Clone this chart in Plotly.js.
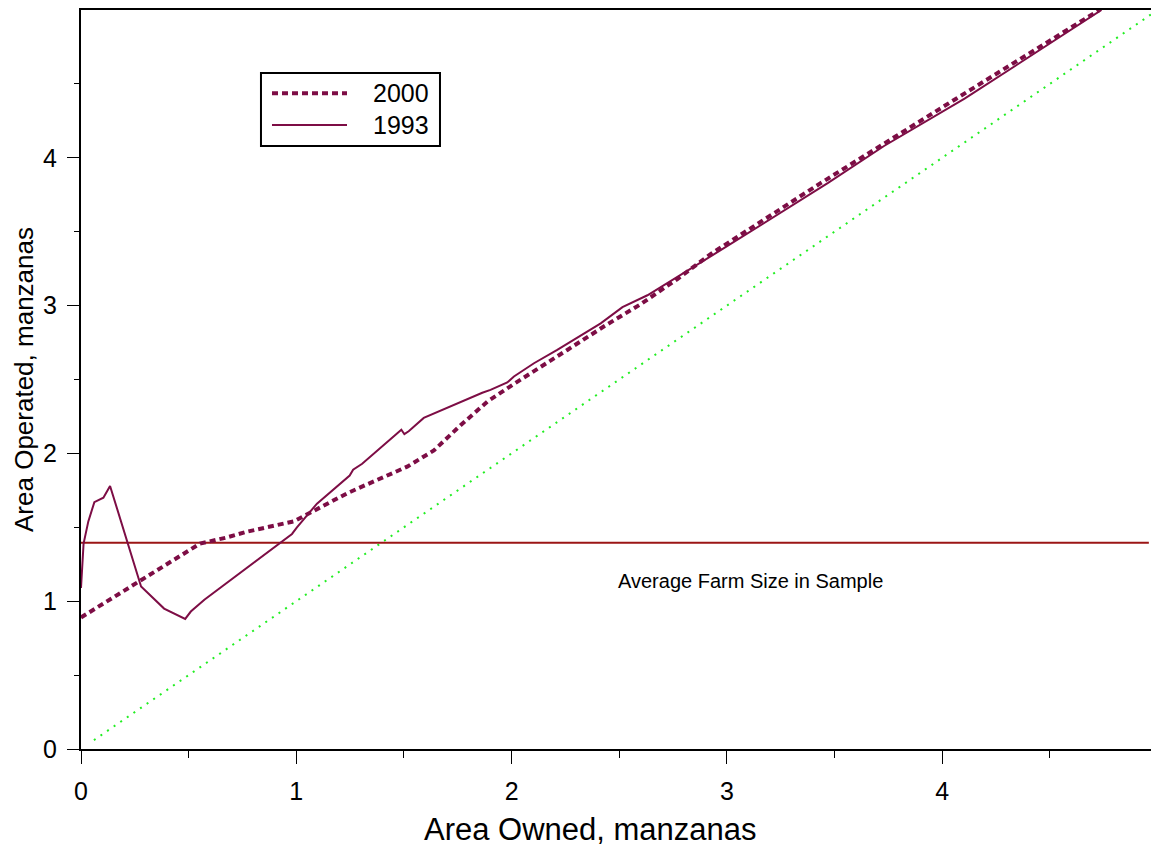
<!DOCTYPE html>
<html>
<head>
<meta charset="utf-8">
<script src="https://cdn.plot.ly/plotly-3.0.1.min.js"></script>
<style>html,body{margin:0;padding:0;background:#fff;}#chart{width:1151px;height:846px;}</style>
</head>
<body>
<div id="chart"></div>
<script>
// 1993 curve (area owned vs area operated)
const owned1993 = [0, 0.012, 0.034, 0.062, 0.104, 0.135, 0.279, 0.386, 0.484, 0.51, 0.573, 0.70, 0.98, 1.003, 1.096, 1.248, 1.264, 1.306, 1.488, 1.502, 1.522, 1.592, 1.639, 1.864, 1.902, 1.98, 2.011, 2.104, 2.212, 2.414, 2.515, 2.631, 2.988, 3.47, 3.73, 4.104, 4.74];
const operated1993 = [1.09, 1.39, 1.54, 1.67, 1.70, 1.78, 1.10, 0.95, 0.88, 0.93, 1.01, 1.15, 1.455, 1.50, 1.66, 1.85, 1.89, 1.93, 2.16, 2.13, 2.15, 2.24, 2.27, 2.41, 2.43, 2.48, 2.52, 2.61, 2.70, 2.88, 2.99, 3.07, 3.39, 3.83, 4.08, 4.40, 5.0];
// 2000 curve
const owned2000 = [0, 0.48, 0.553, 0.674, 0.77, 0.988, 1.127, 1.236, 1.328, 1.515, 1.639, 1.763, 1.887, 2.011, 2.259, 2.43, 2.60, 2.77, 2.926, 3.437, 4.065, 4.73];
const operated2000 = [0.89, 1.33, 1.39, 1.43, 1.47, 1.54, 1.65, 1.73, 1.79, 1.91, 2.02, 2.19, 2.35, 2.47, 2.70, 2.86, 3.01, 3.18, 3.35, 3.83, 4.40, 5.0];
// 45-degree reference line
const diagX = [0.06, 4.97];
const diagY = [0.06, 4.97];
// average farm size in sample
const avgX = [0, 4.96];
const avgY = [1.395, 1.395];
const avgLabel = "Average Farm Size in Sample";
const avgLabelPos = [3.11, 1.137];
const tickVals = [0, 1, 2, 3, 4];
const minorVals = [0.5, 1.5, 2.5, 3.5, 4.5];
const seriesNames = ["2000", "1993"];
const xTitle = "Area Owned, manzanas";
const yTitle = "Area Operated, manzanas";

const purple = "#7d0d45";
const font = "Arial, 'Liberation Sans', sans-serif";

const traces = [
  {x: diagX, y: diagY, mode: "lines", line: {color: "#22ee22", width: 2, dash: "2px,6px"}, showlegend: false, hoverinfo: "skip"},
  {x: avgX, y: avgY, mode: "lines", line: {color: "#9b1515", width: 2}, showlegend: false, name: avgLabel},
  {x: owned1993, y: operated1993, mode: "lines", name: seriesNames[1], line: {color: purple, width: 2}, showlegend: false},
  {x: owned2000, y: operated2000, mode: "lines", name: seriesNames[0], line: {color: purple, width: 4, dash: "6px,4px"}, showlegend: false}
];

// legend box geometry (paper coords)
const lgX0 = 0.1682, lgX1 = 0.3355, lgY0 = 0.816, lgY1 = 0.9147;
const lnX0 = 0.1785, lnX1 = 0.2486, row1 = 0.8873, row2 = 0.8443, txtX = 0.3271;

const layout = {
  width: 1151, height: 846,
  margin: {l: 81, r: 0, t: 10, b: 97},
  paper_bgcolor: "#fff", plot_bgcolor: "#fff",
  font: {family: font, color: "#000", size: 25},
  showlegend: false,
  xaxis: {
    range: [0, 4.97], tickmode: "array", tickvals: tickVals, ticktext: tickVals.map(String),
    ticks: "outside", ticklen: 13, tickwidth: 1, tickcolor: "#000",
    minor: {tickmode: "array", tickvals: minorVals, ticks: "outside", ticklen: 7, tickwidth: 1, tickcolor: "#000"},
    showline: true, linecolor: "#000", linewidth: 2, mirror: true,
    showgrid: false, zeroline: false,
    tickfont: {size: 25}, ticklabelstandoff: 6
  },
  yaxis: {
    range: [0, 5], tickmode: "array", tickvals: tickVals, ticktext: tickVals.map(String),
    ticks: "outside", ticklen: 12, tickwidth: 1, tickcolor: "#000",
    minor: {tickmode: "array", tickvals: minorVals, ticks: "outside", ticklen: 5, tickwidth: 1, tickcolor: "#000"},
    showline: true, linecolor: "#000", linewidth: 2,
    showgrid: false, zeroline: false,
    tickfont: {size: 25}, ticklabelstandoff: 5,
    title: {text: yTitle, font: {size: 26}, standoff: 2}
  },
  shapes: [
    {type: "rect", xref: "paper", yref: "paper", x0: lgX0, x1: lgX1, y0: lgY0, y1: lgY1, line: {color: "#000", width: 2}, fillcolor: "#fff"},
    {type: "line", xref: "paper", yref: "paper", x0: lnX0, x1: lnX1, y0: row1, y1: row1, line: {color: purple, width: 4, dash: "6px,4px"}},
    {type: "line", xref: "paper", yref: "paper", x0: lnX0, x1: lnX1, y0: row2, y1: row2, line: {color: purple, width: 2}}
  ],
  annotations: [
    {xref: "paper", yref: "paper", x: txtX, y: row1, xanchor: "right", yanchor: "middle", text: seriesNames[0], showarrow: false, font: {size: 25}},
    {xref: "paper", yref: "paper", x: txtX, y: row2, xanchor: "right", yanchor: "middle", text: seriesNames[1], showarrow: false, font: {size: 25}},
    {x: avgLabelPos[0], y: avgLabelPos[1], xref: "x", yref: "y", text: avgLabel, showarrow: false, font: {size: 20}},
    {xref: "paper", yref: "paper", x: 0.4766, y: -0.1096, xanchor: "center", yanchor: "middle", text: xTitle, showarrow: false, font: {size: 31}}
  ]
};

Plotly.newPlot("chart", traces, layout, {displayModeBar: false, staticPlot: true});
</script>
</body>
</html>
